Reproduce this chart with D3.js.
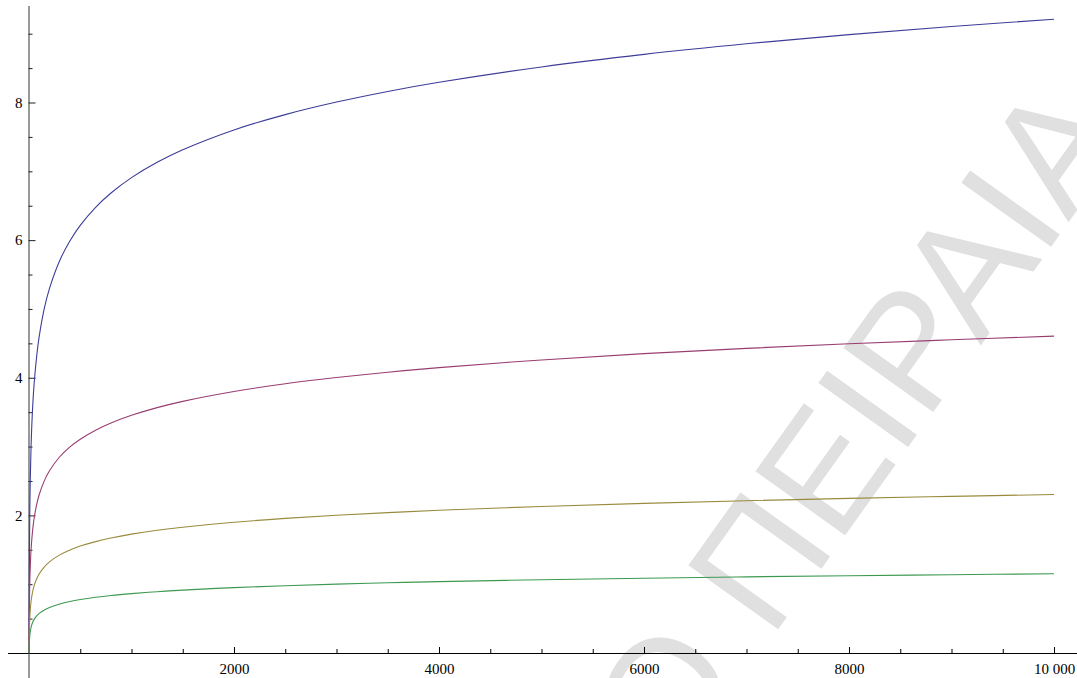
<!DOCTYPE html>
<html>
<head>
<meta charset="utf-8">
<script src="https://cdn.jsdelivr.net/npm/d3@7"></script>
<style>
  html, body { margin: 0; padding: 0; background: #fff; }
  svg { display: block; }
</style>
</head>
<body>
<svg id="chart" width="1077" height="678"></svg>
<script>
// Sample positions along the horizontal axis
const xs = [1, 2, 5, 10, 20, 35, 50, 75, 100, 150, 200, 300, 400, 500, 650, 800, 1000, 1250, 1500,
            2000, 2500, 3000, 3500, 4000, 5000, 6000, 7000, 8000, 9000, 10000];

// Curve values at each sample position
const blueVals = [0, 0.693, 1.609, 2.303, 2.996, 3.555, 3.912, 4.317, 4.605, 5.011, 5.298, 5.704, 5.991, 6.215,
                  6.477, 6.685, 6.908, 7.131, 7.313, 7.601, 7.824, 8.006, 8.161, 8.294, 8.517, 8.700, 8.854,
                  8.987, 9.105, 9.210];
const purpleVals = [0, 0.347, 0.805, 1.151, 1.498, 1.778, 1.956, 2.159, 2.303, 2.505, 2.649, 2.852, 2.996, 3.107,
                    3.238, 3.342, 3.454, 3.566, 3.657, 3.800, 3.912, 4.003, 4.081, 4.147, 4.259, 4.350, 4.427,
                    4.494, 4.552, 4.605];
const oliveVals = [0, 0.173, 0.402, 0.576, 0.749, 0.889, 0.978, 1.079, 1.151, 1.253, 1.325, 1.426, 1.498, 1.554,
                   1.619, 1.671, 1.727, 1.783, 1.828, 1.900, 1.956, 2.002, 2.040, 2.074, 2.129, 2.175, 2.213,
                   2.247, 2.276, 2.303];
const greenVals = [0, 0.087, 0.201, 0.288, 0.374, 0.444, 0.489, 0.540, 0.576, 0.626, 0.662, 0.713, 0.749, 0.777,
                   0.810, 0.836, 0.863, 0.891, 0.914, 0.950, 0.978, 1.001, 1.020, 1.037, 1.065, 1.087, 1.107,
                   1.123, 1.138, 1.151];

const seriesColors = ["#3d3d99", "#993d71", "#998b3d", "#3d9950"];

// Axis ticks
const xMajorTicks = [2000, 4000, 6000, 8000, 10000];
const xMinorTicks = [500, 1000, 1500, 2500, 3000, 3500, 4500, 5000, 5500, 6500, 7000, 7500, 8500, 9000, 9500];
const yMajorTicks = [2, 4, 6, 8];
const yMinorTicks = [0.5, 1, 1.5, 2.5, 3, 3.5, 4.5, 5, 5.5, 6.5, 7, 7.5, 8.5, 9];

const watermarkLead = "ΠΑΝΕΠΙΣΤΗΜΙΟ";
const watermarkMain = "ΠΕΙΡΑΙΑ";

const W = 1077, H = 678;
const svg = d3.select("#chart");
const labelFont = "'Liberation Serif', 'Times New Roman', serif";

const x = d3.scaleLinear().domain([0, 10000]).range([29, 1054]);
const y = d3.scaleLinear().domain([0, 8]).range([653, 102.5]);

// Watermark text, set diagonally behind the plot
const wm = svg.append("g")
  .attr("transform", "translate(770.5,640) rotate(-54.5)")
  .attr("fill", "#e0e0e0")
  .attr("font-family", "'Liberation Sans', Arial, sans-serif")
  .attr("font-size", 160);
wm.append("text").attr("x", -44.5).attr("text-anchor", "end").text(watermarkLead);
wm.append("text").attr("x", 0).attr("text-anchor", "start").text(watermarkMain);

// Axis lines
svg.append("line")
  .attr("x1", 8).attr("x2", W)
  .attr("y1", y(0) + 0.5).attr("y2", y(0) + 0.5)
  .attr("stroke", "#000").attr("stroke-width", 1);
svg.append("line")
  .attr("x1", x(0)).attr("x2", x(0))
  .attr("y1", 6).attr("y2", H)
  .attr("stroke", "#444").attr("stroke-width", 1.1);

// X axis: major ticks with labels, minor ticks without
const xAxisMajor = d3.axisBottom(x).tickValues(xMajorTicks)
  .tickSize(-6).tickSizeOuter(0).tickPadding(10)
  .tickFormat(d => d >= 10000 ? d3.format(",")(d).replace(",", " ") : String(d));
const xAxisMinor = d3.axisBottom(x).tickValues(xMinorTicks)
  .tickSize(-4).tickSizeOuter(0).tickFormat("");

const gx = svg.append("g").attr("transform", `translate(0,${y(0)})`);
gx.call(xAxisMajor);
gx.append("g").call(xAxisMinor);
gx.selectAll(".domain").remove();
gx.selectAll(".tick line").attr("stroke", "#000");
gx.selectAll(".tick text")
  .attr("font-family", labelFont).attr("font-size", 15).attr("fill", "#000");

// Y axis: major ticks with labels, minor ticks without
const yAxisMajor = d3.axisLeft(y).tickValues(yMajorTicks)
  .tickSize(-7).tickSizeOuter(0).tickPadding(6).tickFormat(d3.format("d"));
const yAxisMinor = d3.axisLeft(y).tickValues(yMinorTicks)
  .tickSize(-4).tickSizeOuter(0).tickFormat("");

const gy = svg.append("g").attr("transform", `translate(${x(0) - 0.5},0)`);
gy.call(yAxisMajor);
gy.append("g").call(yAxisMinor);
gy.selectAll(".domain").remove();
gy.selectAll(".tick line").attr("stroke", "#222");
gy.selectAll(".tick text")
  .attr("font-family", labelFont).attr("font-size", 15).attr("fill", "#000");

// Curves
const seriesList = [blueVals, purpleVals, oliveVals, greenVals];
const line = d3.line()
  .x((d, i) => x(xs[i]))
  .y(d => y(d))
  .curve(d3.curveCatmullRom.alpha(0.5));

svg.append("g").selectAll("path")
  .data(seriesList)
  .join("path")
  .attr("d", d => line(d))
  .attr("fill", "none")
  .attr("stroke", (d, i) => seriesColors[i])
  .attr("stroke-width", 1.1);
</script>
</body>
</html>
